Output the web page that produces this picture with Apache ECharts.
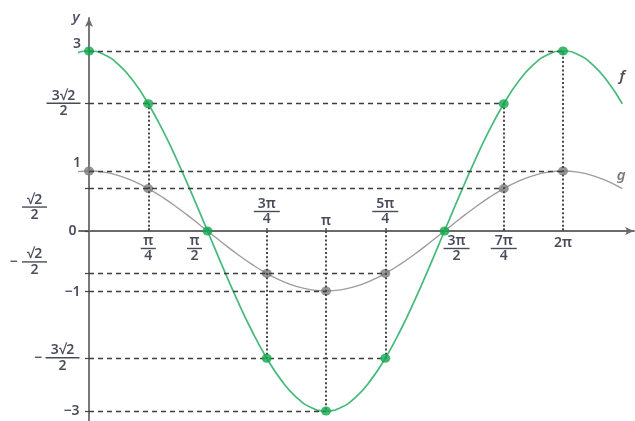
<!DOCTYPE html>
<html>
<head>
<meta charset="utf-8">
<script src="https://cdn.jsdelivr.net/npm/echarts@6/dist/echarts.min.js"></script>
<style>
  html, body { margin: 0; padding: 0; background: #fff; }
  #chart { width: 635px; height: 421px; }
</style>
</head>
<body>
<div id="chart"></div>
<script>
// Abscissae are counted in steps of π/4: k stands for kπ/4.
const curveX = [-1, -0.75, -0.5, -0.25, 0, 0.25, 0.5, 0.75, 1, 1.25, 1.5, 1.75, 2, 2.25, 2.5, 2.75, 3, 3.25, 3.5, 3.75, 4,
  4.25, 4.5, 4.75, 5, 5.25, 5.5, 5.75, 6, 6.25, 6.5, 6.75, 7, 7.25, 7.5, 7.75, 8, 8.25, 8.5, 8.75, 9];
const fCurve = [2.121, 2.494, 2.772, 2.942, 3, 2.942, 2.772, 2.494, 2.121, 1.667, 1.148, 0.585, 0, -0.585, -1.148, -1.667, -2.121,
  -2.494, -2.772, -2.942, -3, -2.942, -2.772, -2.494, -2.121, -1.667, -1.148, -0.585, 0, 0.585, 1.148, 1.667, 2.121,
  2.494, 2.772, 2.942, 3, 2.942, 2.772, 2.494, 2.121];
const gCurve = [0.707, 0.831, 0.924, 0.981, 1, 0.981, 0.924, 0.831, 0.707, 0.556, 0.383, 0.195, 0, -0.195, -0.383, -0.556, -0.707,
  -0.831, -0.924, -0.981, -1, -0.981, -0.924, -0.831, -0.707, -0.556, -0.383, -0.195, 0, 0.195, 0.383, 0.556, 0.707,
  0.831, 0.924, 0.981, 1, 0.981, 0.924, 0.831, 0.707];

// Highlighted points of f and g
const fDotX = [0, 1, 2, 3, 4, 5, 6, 7, 8];
const fDotY = [3, 2.121, 0, -2.121, -3, -2.121, 0, 2.121, 3];
const gDotX = [0, 1, 3, 4, 5, 7, 8];
const gDotY = [1, 0.707, -0.707, -1, -0.707, 0.707, 1];

// Tick labels on the x axis (numerator / denominator)
const xTickX = [1, 2, 3, 4, 5, 6, 7, 8];
const xTickNum = ['π', 'π', '3π', 'π', '5π', '3π', '7π', '2π'];
const xTickDen = ['4', '2', '4', '', '4', '2', '4', ''];

// Tick labels on the y axis
const yTickY = [3, 2.121, 1, 0.707, 0, -0.707, -1, -2.121, -3];
const yTickSign = ['', '', '', '', '', '−', '', '−', ''];
const yTickNum = ['3', '3√2', '1', '√2', '0', '√2', '−1', '3√2', '−3'];
const yTickDen = ['', '2', '', '2', '', '2', '', '2', ''];

// ---- layout (pixel nudges of the labels) ----
const xTickOffset = [[0, 18], [-13, 18], [0, -19], [0, -10], [0, -19], [12, 18], [0, 18], [0, 12]];
const yTickOffset = [[-12, -6.5], [-25.5, 0], [-12, -8], [-54.5, 19], [-16.5, 0], [-54.5, -11], [-16.5, 1], [-26.5, 0], [-17.5, 0]];
const ySignOffset = { 5: [-75.5, -11], 7: [-51, 0] };
const barWidth = { 'π': 15, '3π': 26, '5π': 26, '7π': 26, '√2': 25, '3√2': 34 };
const leaderLines = [
  [[-0.624, 0.40], [-0.10, 0.69]],
  [[-0.624, -0.55], [-0.118, -0.72]]
];
const nameLabels = [
  { text: 'y', at: [-0.22, 3.55], color: '#2a2f45' },
  { text: 'f', at: [9.0, 2.57], color: '#222' },
  { text: 'g', at: [8.98, 0.92], color: '#5a5a5a' }
];

const TXT = '#1a1e30';
const FONT = 'Noto Sans, Open Sans, sans-serif';

const rich = {
  num: { fontSize: 14, fontWeight: 600, lineHeight: 12, color: TXT, fontFamily: FONT, align: 'center' },
  den: { fontSize: 14, fontWeight: 600, lineHeight: 13, color: TXT, fontFamily: FONT, align: 'center' },
  one: { fontSize: 14, fontWeight: 600, lineHeight: 14, color: TXT, fontFamily: FONT }
};
Object.keys(barWidth).forEach((k, i) => {
  rich['bar' + i] = { width: barWidth[k], height: 1.4, lineHeight: 3, fontSize: 1, backgroundColor: TXT };
});
function barKey(num) { return 'bar' + Object.keys(barWidth).indexOf(num); }
function labelText(num, den) {
  if (!den) return '{one|' + num + '}';
  return '{num|' + num + '}\n{' + barKey(num) + '|\u00a0}\n{den|' + den + '}';
}

// Label items anchored on the axes through the coordinate system
const labelItems = [];
xTickX.forEach((x, i) => {
  labelItems.push({ value: [x, 0], label: { formatter: labelText(xTickNum[i], xTickDen[i]), offset: xTickOffset[i] } });
});
yTickY.forEach((y, i) => {
  labelItems.push({ value: [0, y], label: { formatter: labelText(yTickNum[i], yTickDen[i]), offset: yTickOffset[i] } });
  if (yTickSign[i]) {
    labelItems.push({ value: [0, y], label: { formatter: '{one|' + yTickSign[i] + '}', offset: ySignOffset[i] } });
  }
});
nameLabels.forEach(n => {
  labelItems.push({
    value: n.at,
    label: { formatter: n.text, fontStyle: 'italic', fontWeight: 600, fontSize: 15, color: n.color, fontFamily: FONT }
  });
});

// Guide lines derived from the highlighted points
const allDots = fDotX.map((x, i) => [x, fDotY[i]]).concat(gDotX.map((x, i) => [x, gDotY[i]]));
const levelEnd = {};
allDots.forEach(([x, y]) => {
  if (y === 0) return;
  levelEnd[y] = Math.max(levelEnd[y] ?? -Infinity, x);
});
const hGuides = Object.keys(levelEnd).map(y => [{ coord: [0, +y] }, { coord: [levelEnd[y], +y] }]);
const vGuides = fDotX
  .map((x, i) => [x, fDotY[i]])
  .filter(([x, y]) => x !== 0 && y !== 0)
  .map(([x, y]) => [{ coord: [x, 0] }, { coord: [x, y] }]);

const chart = echarts.init(document.getElementById('chart'), null, { renderer: 'canvas' });
chart.setOption({
  animation: false,
  backgroundColor: '#fff',
  grid: { left: 79, right: 1, top: 18, bottom: 0, containLabel: false },
  xAxis: {
    type: 'value',
    min: -0.169, max: 9.198,
    axisLine: { onZero: true, symbol: ['none', 'arrow'], symbolSize: [6, 9], lineStyle: { color: '#6a6a6a', width: 1.8 } },
    axisTick: { show: true, inside: true, length: 3, customValues: xTickX, lineStyle: { color: '#555', width: 1.5 } },
    axisLabel: { show: false },
    splitLine: { show: false }
  },
  yAxis: {
    type: 'value',
    min: -3.167, max: 3.55,
    axisLine: { onZero: true, symbol: ['none', 'arrow'], symbolSize: [6, 9], lineStyle: { color: '#6a6a6a', width: 1.8 } },
    axisTick: { show: true, length: 4, customValues: yTickY, lineStyle: { color: '#444', width: 1.2 } },
    axisLabel: { show: false },
    splitLine: { show: false }
  },
  series: [
    {
      type: 'line', data: [], silent: true, z: 1,
      markLine: {
        silent: true, symbol: ['none', 'none'], label: { show: false }, emphasis: { disabled: true },
        lineStyle: { color: '#3e3e3e', width: 1.3, type: [5, 4] },
        data: hGuides
      }
    },
    {
      type: 'line', data: [], silent: true, z: 1,
      markLine: {
        silent: true, symbol: ['none', 'none'], label: { show: false }, emphasis: { disabled: true },
        lineStyle: { color: '#4a4a4a', width: 2, type: [2, 2.2] },
        data: vGuides
      }
    },
    {
      type: 'line', data: [], silent: true, z: 1,
      markLine: {
        silent: true, symbol: ['none', 'none'], label: { show: false }, emphasis: { disabled: true },
        lineStyle: { color: '#444', width: 1.2, type: 'solid' },
        data: leaderLines.map(([a, b]) => [{ coord: a }, { coord: b }])
      }
    },
    {
      name: 'g', type: 'line', smooth: true, showSymbol: false, clip: false, z: 2,
      lineStyle: { color: '#9d9d9d', width: 1.4 },
      data: curveX.map((x, i) => [x, gCurve[i]])
    },
    {
      name: 'f', type: 'line', smooth: true, showSymbol: false, clip: false, z: 3,
      lineStyle: { color: '#45ba7b', width: 1.7 },
      data: curveX.map((x, i) => [x, fCurve[i]])
    },
    {
      type: 'scatter', symbolSize: [10, 9], clip: false, z: 4,
      itemStyle: { color: '#7b7b7b' },
      data: gDotX.map((x, i) => [x, gDotY[i]])
    },
    {
      type: 'scatter', symbolSize: [10, 9], clip: false, z: 5,
      itemStyle: { color: '#10a64c' },
      data: fDotX.map((x, i) => [x, fDotY[i]])
    },
    {
      type: 'scatter', symbolSize: 0, clip: false, silent: true, z: 6,
      itemStyle: { color: 'rgba(0,0,0,0)' },
      label: { show: true, position: 'inside', align: 'center', verticalAlign: 'middle', rich: rich },
      data: labelItems
    }
  ]
});
</script>
</body>
</html>
